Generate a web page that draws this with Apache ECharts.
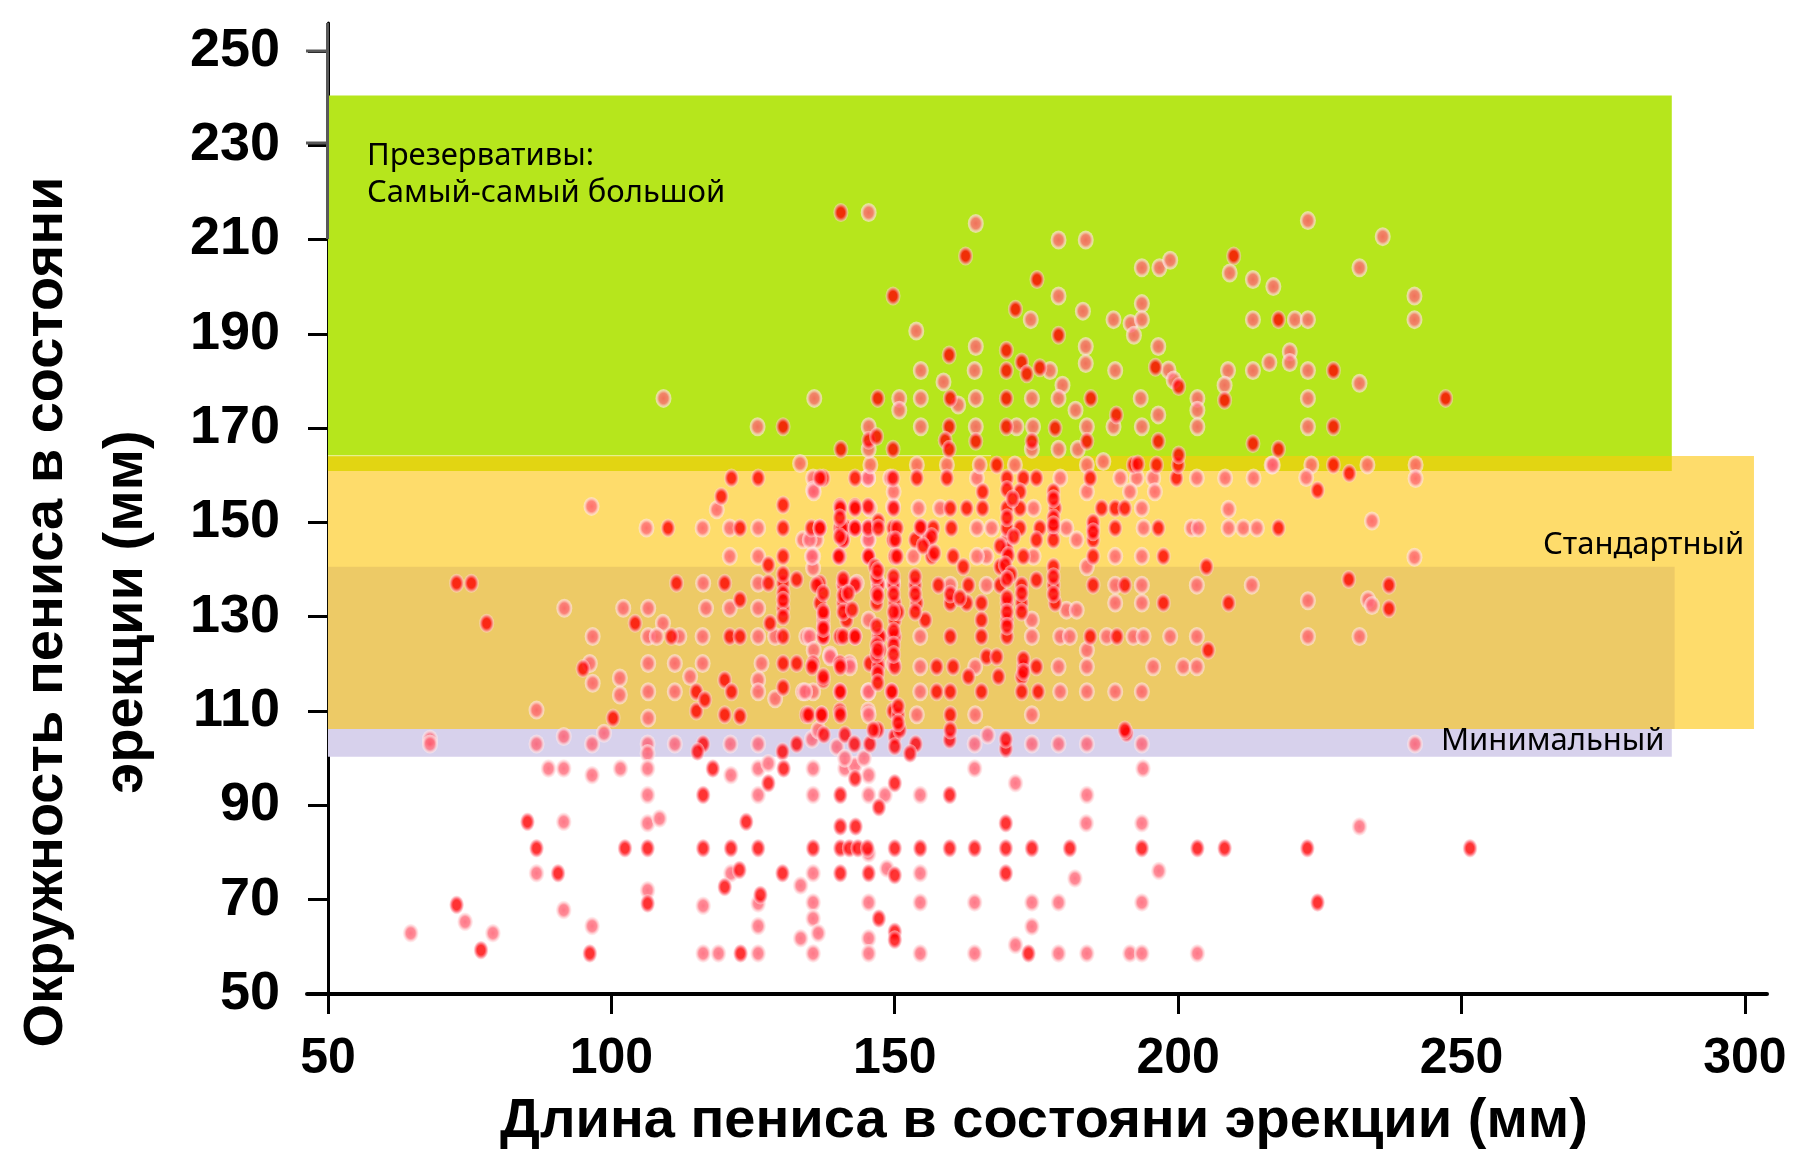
<!DOCTYPE html>
<html><head><meta charset="utf-8">
<style>html,body{margin:0;padding:0;background:#fff}#c{width:1800px;height:1162px}</style>
<script src="https://cdn.jsdelivr.net/npm/echarts@6/dist/echarts.min.js"></script></head>
<body><div id="c"></div>
<script>
const xTicks=[50,100,150,200,250,300];
const yTicks=[50,70,90,110,130,150,170,190,210,230,250];
const xTitle='Длина пениса в состояни эрекции (мм)';
const yTitle='Окружность пениса в состояни\nэрекции (мм)';
// bands: [xStart,yStart,xEnd,yEnd]
const bandGreen=[50,160.9,287.1,240.5];
const bandYellow=[50,106.2,301.6,164.1];
const bandOlive=[50,160.9,287.1,164.1];
const bandBrown=[50,106.2,287.6,140.6];
const bandPurple=[50,100.3,287.1,106.2];
const bandSeam=[50,164.05,167,164.3];

const pinkLow=[[68,104],[68,103],[86.8,103],[91.6,104.6],[96.6,103],[98.7,105.3],[106.4,103],[106.4,101],[111.2,103],[121,103],[125.9,103],[135.4,104],[139.8,102.4],[164.1,103],[166.4,104.9],[174.2,103],[178.9,103],[183.9,103],[193.6,103],[241.8,103],
[88.9,97.8],[91.6,97.8],[96.6,96.4],[101.6,97.8],[106.4,97.8],[121.1,96.4],[125.9,97.8],[127.7,98.9],[135.6,97.8],[141.2,97.8],[143,98.5],[141.2,100],[144.6,100],[145.4,96.4],[164.1,97.8],[193.8,97.8],[171.3,94.7],
[106.4,92.2],[125.9,92.2],[135.6,92.2],[145.4,92.2],[148.3,92.2],[154.5,92.2],[183.9,92.2],[91.6,86.5],[106.4,86.2],[108.5,87.2],[183.8,86.2],[193.6,86.2],[232,85.5],[145.4,79.8],
[86.8,75.6],[121.1,75.6],[135.6,75.6],[133.4,73],[148.6,76.6],[154.5,75.6],[181.8,74.5],[196.6,76.1],
[91.6,67.8],[106.4,72],[116.2,68.7],[125.9,69.2],[135.6,69.4],[145.4,69.4],[154.5,69.4],[164.1,69.4],[174.2,69.4],[178.9,69.4],[193.6,69.4],
[74.2,65.3],[96.6,64.4],[125.9,64.4],[135.6,66],[133.4,61.8],[136.5,62.9],[145.4,61.8],[64.6,62.9],[79.1,62.9],[174.2,64.3],
[116.2,58.6],[118.9,58.6],[125.9,58.6],[135.6,58.6],[145.4,58.6],[154.5,58.6],[164.1,58.6],[171.3,60.4],[178.9,58.6],[183.9,58.6],[191.5,58.6],[193.6,58.6],[203.4,58.6]];
const redLow=[[116.2,103],[115.2,101.4],[132.7,103],[130.2,101.4],[137.5,105],[141.2,105],[142.9,103],[145.6,103],[150,104.6],[150,102.5],[153.7,103],[152.7,101],[159.7,103.9],[147,106],[169.6,102],[169.6,104],[190.9,105.3],
[117.9,97.8],[130.4,97.8],[143,95.7],[150,94.7],[127.7,94.7],[116.2,92.2],[140.4,92.2],[159.7,92.2],[147.2,89.6],[85.2,86.5],[123.8,86.5],[140.4,85.5],[143.1,85.5],[169.6,86.2],
[86.8,80.9],[102.4,80.9],[106.4,80.9],[116.2,80.9],[121.1,80.9],[125.9,80.9],[135.6,80.9],[140.4,80.9],[142,80.9],[143.5,80.9],[145.2,80.9],[150,80.9],[154.5,80.9],[159.7,80.9],[164.1,80.9],[169.6,80.9],[174.2,80.9],[180.9,80.9],[193.6,80.9],[203.4,80.9],[208.2,80.9],[222.8,80.9],[251.5,80.9],
[90.6,75.6],[122.6,76.3],[120,72.7],[130.2,75.6],[140.4,75.6],[145.4,75.6],[150,75.2],[169.6,75.6],
[72.7,68.9],[106.4,69.2],[126.3,71],[224.6,69.4],[147.2,66],[150,63.2],[150,61.5],[77,59.3],[96.2,58.6],[122.8,58.6],[173.6,58.6]];

const pinkMid=[[116.2,137.1],[125.9,137.1],[143.3,137.1],[147.1,137.1],[149.7,137.1],[91.7,131.8],[102.1,131.8],[106.5,131.8],[116.7,131.8],[120.9,131.8],[125.9,131.8],[109.1,128.6],
[96.7,125.8],[106.5,125.8],[108,125.8],[112,125.8],[116.1,125.8],[125.9,125.8],[128.9,125.8],[134.4,125.8],[96.2,120.1],[106.5,120.1],[111.2,120.1],[116.1,120.1],[126.5,120.1],[138.6,121.9],[142,120.1],[149.7,120.1],
[96.7,115.9],[101.5,117],[101.5,113.4],[106.5,114.1],[111.2,114.1],[125.9,116.6],[125.9,114.1],[128.9,112.6],[133.8,114.1],[135.6,114.1],[145.3,114.1],[86.8,110.2],[113.9,117.3],[145.3,110],[106.5,108.5],
[96.5,153.4],[118.6,152.7],[149.7,153.4],[135.6,159.4],[145.3,159.4],[135.6,156.9],[133.3,162.5],[106.2,148.8],[116.1,148.8],[120.9,148.8],[125.9,148.8],[133.8,146.3],[136.2,146.3],[145.3,146.3],[120.9,142.8],[125.9,142.8],[135.6,142.8],[135.6,140.3],
[145.3,159.4],[149.2,159.4],[164.5,159.4],[179.2,159.4],[189.8,159.4],[192.7,159.4],[195.6,159.4],[203.3,159.4],[208.3,159.4],[213.3,159.4],[145.7,162.2],[153.9,162.2],[159.2,162.2],[165,162.2],[171.2,162.2],[183.9,162.2],[186.8,162.9],[216.5,162.2],[216.7,162.2],[223.5,162.2],[233.4,162.2],[241.9,162.2],[241.9,159.3],[222.6,159.5],
[135.7,156.5],[149.8,156.5],[183.9,156.5],[191.5,156.5],[195.9,156.5],[145.6,153],[154.2,153],[158,153],[174.5,153],[193.6,153],[208.9,152.8],[234.2,150.3],
[145.4,148.8],[164.5,148.8],[167.1,148.8],[180.3,148.8],[193.9,148.8],[202.4,148.8],[203.6,148.8],[208.9,148.8],[211.5,148.8],[213.9,148.8],[135,146.3],[145.4,146.3],[169.8,146.3],[182.1,146.3],
[135.4,142.8],[153.3,142.8],[166.2,142.8],[164.5,142.8],[174.5,142.8],[188.9,142.8],[193.6,142.8],[241.7,142.6],[183.9,140.6],[159.8,136.7],[166.2,136.7],[188.9,136.7],[193.6,136.7],[203.3,136.7],[213,136.7],
[188.9,132.9],[193.6,132.9],[222.9,133.4],[233.5,133.6],[234.2,132.4],[180.3,131.4],[182.1,131.4],[145.4,129.3],[174.2,129.3],[135,125.8],[154.5,125.8],[174.2,125.8],[179.2,125.8],[180.9,125.8],[187.4,125.8],[192.1,125.8],[193.9,125.8],[198.6,125.8],[203.3,125.8],[222.9,125.8],[232,125.8],
[135.7,122.9],[183.9,122.9],[138.6,121.5],[142.1,119.4],[154.5,119.4],[164.2,119.4],[178.9,119.4],[183.9,119.4],[195.6,119.4],[200.9,119.4],[203.3,119.4],[134.2,114.1],[145.4,114.1],[154.5,114.1],[179.2,114.1],[183.9,114.1],[188.9,114.1],[193.6,114.1],
[145.4,109.2],[153.9,109.2],[164.2,109.2],[174.2,109.2],[136.5,106]];
const redMid=[[72.7,137.1],[75.3,137.1],[111.5,137.1],[120,137.1],[127.7,137.1],[130.3,137.1],[132.7,137.9],[136.8,137.1],[140.9,137.1],[122.7,133.6],[130.3,131.8],[78,128.6],[104.2,128.6],[128,128.6],
[110.6,125.8],[120.9,125.8],[122.7,125.8],[130.3,125.8],[137.4,125.8],[140.3,125.8],[143,125.8],[147.1,125.8],[149.7,125.8],[95,119],[130.3,120.1],[132.7,120.1],[135.6,120.1],[140.3,120.1],[147.1,120.1],[145.6,120.1],
[115,114.1],[120,116.6],[121.2,114.1],[130.3,115],[137.4,116.6],[140.3,114.1],[149.4,114.1],[115,110],[116.5,112.4],[120,109.2],[122.7,108.9],[134.4,109.2],[137.1,109.2],[140.3,110],[149.7,110],[100.3,108.5],
[119.4,155.5],[130.3,153.7],[140.3,153.4],[143,153.4],[145.3,153.4],[121.2,159.4],[125.9,159.4],[137.4,159.4],[143,159.4],[149.7,159.4],[110,148.8],[122.7,148.8],[130.3,148.8],[135.3,148.8],[136.8,148.8],[140.3,148.8],[141.5,148.8],[143,148.8],[145.3,148.8],[147.1,150.2],[149.7,148.8],[140.9,146.3],[149.7,146.3],
[127.7,141],[130.3,142.8],[140.3,142.8],[145.3,142.8],[150,142.8],[136.8,159.4],[153.9,159.4],[159.2,159.4],[169.8,159.4],[172.7,159.4],[175,159.4],[184.5,159.4],[199.7,159.4],[168,162.2],[192.1,162.2],[192.9,162.4],[196.2,162.2],[200,162.2],[227.4,162.2],[230.2,160.4],
[165.5,156.5],[172.1,156.5],[178,156.5],[224.6,156.8],[140.4,153],[143,153],[149.8,153],[159.8,153],[162.7,153],[165.5,153],[169.8,153],[172.1,153],[178.3,153],[186.5,153],[188.9,153],[190.6,153],
[136.8,148.8],[140.7,148.8],[143,148.8],[147.1,148.8],[150.4,148.8],[154.8,148.8],[156.8,148.8],[160,148.8],[169.8,148.8],[172.1,148.8],[175.6,148.8],[178,148.8],[185,148.8],[188.9,148.8],[196.5,148.8],[217.7,148.8],
[140.9,146.3],[150.1,146.3],[153.6,146.3],[155.9,146.3],[175,146.3],[178,146.3],[185,146.3],[140.1,142.8],[145.4,142.8],[150.4,142.8],[156.5,142.8],[160.3,142.8],[169.8,144.2],[172.7,142.8],[185,142.8],[197.4,142.8],
[146.5,140.6],[162.1,140.6],[168.6,140.6],[178,140.6],[205,140.6],[136.2,136.7],[140.9,136.7],[143,136.7],[147.1,136.7],[149.8,136.7],[153.6,136.7],[157.7,136.7],[163,136.7],[168.6,136.7],[172.4,136.7],[175,137.8],[178,136.7],[185,136.7],[190.6,136.7],[230.1,137.9],[237.2,136.7],
[136.8,132.9],[140.9,132.9],[146.8,132.9],[150,132.9],[153.9,132.9],[159.8,132.9],[162.7,132.9],[165.3,132.9],[169.8,132.9],[172.4,132.9],[178.3,132.9],[197.4,132.9],[208.9,132.9],[237.2,131.7],[137.4,129.3],[141.5,129.3],[150,129.3],[155.4,129.3],[165.3,129.3],[169.8,129.3],
[137.4,125.8],[140.9,125.8],[143,125.8],[147.4,125.8],[150,125.8],[159.8,125.8],[165.3,125.8],[169.8,125.8],[184.5,125.8],[189.2,125.8],[147.4,122.9],[205.3,122.9],[166.2,121.5],[168,121.5],[135.4,119.4],[140.4,119.4],[147.1,119.4],[150,119.4],[157.4,119.4],[160.3,119.4],[172.7,119.4],[175,119.4],
[137.4,117.3],[163,117.3],[168.3,117.3],[172.4,117.3],[140.4,114.1],[149.5,114.1],[157.4,114.1],[159.8,114.1],[165.3,114.1],[172.4,114.1],[175.3,114.1],[134.8,109.2],[137.1,109.2],[140.4,109.2],[150.6,109.2],[159.8,109.2],[146.2,106],[150.9,106],[159.8,106],[190.6,106]];
// solid red runs in the dense core
const redCore=[[169.8,157],[170.8,155],[169.8,151],[171,147],[178,155],[178,151],[178,149.5],[185,150],[185,148],[154.5,149],[156.5,147],[155,145],[157,143.5],
[168.6,145],[170,143],[169.5,141],[170.5,139],[169.8,138],[169.8,134],[169.8,131],[169.8,128],[146.8,128],[146.8,124],[146.8,122],[147,118],[149.8,127],[149.8,124],[149.8,122],[150.6,131],[150.6,111],[150.6,107.5],
[137.4,130.5],[137.4,128],[140.9,138],[140.9,134.5],[140.9,131],[146.8,138.5],[146.8,135],[149.8,138.5],[149.8,134.8],[149.8,131],[153.6,138.5],[153.6,134.8],[153.6,131],[159.8,134.8],[161.5,134],[178,138.5],[178,134.8],[172.4,135],[172.4,131],[172.7,121],[172.7,118.3],
[130.3,139],[130.3,135],[130.3,133.5],[130.3,130],[137.4,135],[137.4,131],[137.4,127.5],[141.8,135],[142.5,131.5],[147,139.8],[147,134.5],[147,123],[140.3,151],[140.3,147],[147,116]];

const pinkHigh=[[145.4,215.7],[164.3,213.4],[178.9,209.9],[183.7,209.9],[178.9,198],[174,193],[183.2,194.8],[153.8,190.6],[164.3,187.3],[183.7,187.3],[154.6,182.2],[164.1,182.2],[177.4,182.2],[183.7,183.7],[158.6,179.8],[179.6,179.1],
[109.2,176.3],[135.8,176.3],[150.8,176.3],[150.8,173.8],[154.6,176.3],[161.2,174.9],[164.3,176.3],[174.2,176.3],[178.9,176.3],[181.9,173.8],[125.8,170.3],[145.4,170.3],[154.6,170.3],[164.3,170.3],[171.5,170.3],[174.4,170.3],[183.9,170.3],
[145.4,165.5],[174.2,165.5],[178.9,165.5],[182.3,165.5],[222.9,214],[236.1,210.6],[193.6,204],[196.7,204],[198.6,205.6],[209.1,202.9],[213.2,201.5],[216.8,200],[232,204],[241.7,198],[193.6,196.4],[188.6,193],[191.6,192.2],[193.6,193],[192.2,189.7],[213.2,193],[220.6,193],[222.9,193],[241.7,193],
[196.5,187.3],[219.7,186.2],[216.1,183.9],[219.7,183.9],[188.9,182.2],[198.3,182.3],[199.2,180.2],[208.8,182.2],[213.2,182.2],[222.9,182.2],[232,179.5],[208.2,179.1],[193.4,176.3],[203.4,176.3],[203.4,173.8],[222.9,176.3],[196.5,172.8],[188.6,170.3],[193.6,170.3],[203.4,170.3],[222.9,170.3]];
const redHigh=[[140.5,215.7],[162.5,206.5],[175.1,201.5],[149.7,198],[171.3,195.2],[178.9,189.7],[159.6,185.5],[169.7,186.5],[169.7,182.2],[172.4,184],[173.3,181.5],[175.6,182.8],[147,176.3],[159.8,176.3],[169.7,176.3],[184.6,176.3],[130.3,170.3],[159.6,170.3],[169.7,170.3],[178.3,170],
[145.4,167.4],[146.8,168.2],[158.9,167.4],[164.3,167.2],[174.2,167.2],[183.9,167.2],[140.5,165.5],[149.7,165.5],[159.6,165.5],[209.8,206.5],[217.7,193],[196,182.9],[200.1,178.8],[227.4,182.2],[208.2,175.9],[247.2,176.3],[189.1,172.8],[227.4,170.3],[196.5,167.2],[213.2,166.7],[217.7,165.5],[200.1,164.3]];

const pinkDots=pinkLow.concat(pinkMid,pinkHigh);
const redDots=redLow.concat(redMid,redHigh,redCore);

const band=(b,color)=>[{xAxis:b[0],yAxis:b[1],itemStyle:{color:color,opacity:1}},{xAxis:b[2],yAxis:b[3]}];
const grad=(stops)=>({type:'radial',x:.5,y:.5,r:.5,colorStops:stops});
const pinkFill=grad([{offset:0,color:'rgba(255,85,105,1)'},{offset:.55,color:'rgba(255,110,125,1)'},{offset:.8,color:'rgba(255,200,205,.95)'},{offset:1,color:'rgba(255,240,240,.7)'}]);
const redFill=grad([{offset:0,color:'#ff0000'},{offset:.5,color:'#ff0000'},{offset:.72,color:'rgba(255,95,110,1)'},{offset:1,color:'rgba(255,230,230,.6)'}]);
const labelText=(x,y,t)=>({type:'text',left:x,top:y,z:20,style:{text:t,font:'31px "Noto Sans"',fill:'#000',lineHeight:37}});

const chart=echarts.init(document.getElementById('c'),null,{renderer:'canvas'});
chart.setOption({
  animation:false,backgroundColor:'#fff',
  grid:{left:307,right:33,top:23,bottom:168},
  xAxis:{type:'value',min:46.3,max:303.9,splitLine:{show:false},
    axisLine:{show:true,onZero:false,lineStyle:{color:'#000',width:4}},
    axisTick:{length:20,lineStyle:{color:'#000',width:3},customValues:xTicks},
    axisLabel:{customValues:xTicks,color:'#000',fontFamily:'Liberation Sans',fontSize:50,fontWeight:'bold',margin:40,formatter:v=>String(v)},
    name:xTitle,nameLocation:'middle',nameGap:100,
    nameTextStyle:{color:'#000',fontFamily:'Liberation Sans',fontSize:56,fontWeight:'bold',padding:[0,0,0,14]}},
  yAxis:{type:'value',min:50,max:255.9,offset:-21,splitLine:{show:false},
    axisLine:{show:true,onZero:false,lineStyle:{color:'#000',width:3}},
    axisTick:{length:20,lineStyle:{color:'#000',width:3},customValues:yTicks},
    axisLabel:{customValues:yTicks,color:'#000',fontFamily:'Liberation Sans',fontSize:54,fontWeight:'bold',margin:48,padding:[0,0,8,0],formatter:v=>String(v)}},
  series:[
    {type:'scatter',z:1,data:[],silent:true,markArea:{silent:true,data:[band(bandGreen,'#B6E61C'),band(bandYellow,'#FEDC6B'),band(bandBrown,'#EDCA66'),band(bandPurple,'#D7D1EC'),band(bandOlive,'#E2D512'),band(bandSeam,'#E6F08C')]}},
    {type:'scatter',z:3,name:'pink',data:pinkDots,symbol:'circle',symbolSize:[16,19],itemStyle:{color:pinkFill}},
    {type:'scatter',z:4,name:'red',data:redDots,symbol:'circle',symbolSize:[15,19],itemStyle:{color:redFill}}
  ],
  graphic:[
    {type:'rect',z:15,shape:{x:326,y:23,width:3,height:216},style:{fill:'#595959'}},
    {type:'rect',z:15,shape:{x:306,y:49.5,width:21,height:3},style:{fill:'#595959'}},
    {type:'rect',z:15,shape:{x:306,y:141.5,width:21,height:3},style:{fill:'#595959'}},
    labelText(367,138,'Презервативы:\nСамый-самый большой'),
    labelText(1543,527,'Стандартный'),
    labelText(1441,723,'Минимальный'),
    {type:'text',z:20,x:87,y:612,rotation:Math.PI/2,
      style:{text:yTitle,font:'bold 56px "Liberation Sans"',fill:'#000',align:'center',verticalAlign:'middle',lineHeight:80}}
  ]
});
</script></body></html>
